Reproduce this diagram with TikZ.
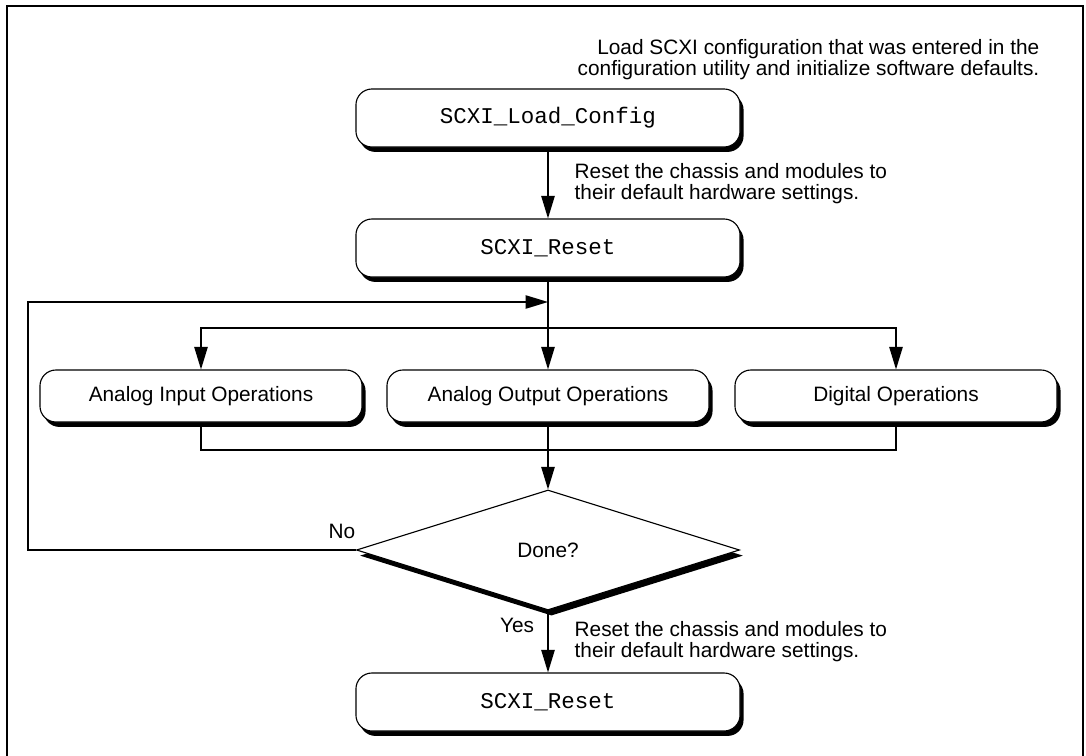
\documentclass[tikz,border=0pt]{standalone}
\usepackage{fontspec}
\setmainfont{Liberation Sans}
\setmonofont{Liberation Mono}
\usetikzlibrary{arrows.meta,shapes.geometric,shadows}

\tikzset{
  flowbox/.style={draw,fill=white,rounded corners=0.4cm,line width=0.8pt,inner sep=0pt,
    drop shadow={shadow xshift=2.5pt,shadow yshift=-3.5pt,fill=black,opacity=1}},
  fnbox/.style={flowbox,minimum width=9.6cm,minimum height=1.45cm,
    font=\ttfamily\fontsize{16}{18}\selectfont},
  opbox/.style={flowbox,minimum width=8.05cm,minimum height=1.3cm},
  decision/.style={diamond,draw,fill=white,line width=0.8pt,inner sep=0pt,
    minimum width=9.575cm,minimum height=3cm,
    drop shadow={shadow xshift=2.5pt,shadow yshift=-4pt,fill=black,opacity=1}},
  note/.style={align=left,anchor=west,inner sep=0pt},
}

\begin{document}
\begin{tikzpicture}[x=0.025cm,y=-0.025cm,line width=1pt,
    >={Triangle[length=16pt,width=9.5pt]},font=\fontsize{14.8}{15}\selectfont]
  \useasboundingbox (0,0) rectangle (1086,756);
  \draw[line width=2pt] (7,760) -- (7,6) -- (1083,6) -- (1083,760);

  % boxes
  \node[fnbox] (load) at (548,118) {SCXI\_Load\_Config};
  \node[fnbox] (reset) at (548,248) {SCXI\_Reset};
  \node[opbox] (ain) at (201,396) {Analog Input Operations};
  \node[opbox] (aout) at (548,396) {Analog Output Operations};
  \node[opbox] (dig) at (896,396) {Digital Operations};
  \node[decision] (done) at (548,550) {Done?};
  \node[fnbox] (reset2) at (548,702) {SCXI\_Reset};

  % notes
  \node[align=right,anchor=east,inner sep=0pt] (cfgnote) at (1040,60)
    {Load SCXI configuration that was entered in the\\configuration utility and initialize software defaults.};
  \node[note] (rstnote) at (574,184) {Reset the chassis and modules to\\their default hardware settings.};
  \node[note] (endnote) at (574,642) {Reset the chassis and modules to\\their default hardware settings.};
  \node (no) at (342,531) {No};
  \node (yes) at (517,625) {Yes};

  \coordinate (split) at (548,328);
  \coordinate (ret) at (548,302);
  \coordinate (lft) at (28,550);
  \coordinate (join) at (548,450);

  \draw[->] (load) -- (reset);
  \draw (reset.south) -- (split);
  \draw[->] (split) -| (ain);
  \draw[->] (split) -| (dig);
  \draw[->] (split) -- (aout);
  \draw[->] (done.west) -- (lft) |- (ret);
  \draw (ain) |- (join) -| (dig);
  \draw (aout) -- (join);
  \draw[->] (join) -- (done);
  \draw[->] (done) -- (reset2);
\end{tikzpicture}
\end{document}
